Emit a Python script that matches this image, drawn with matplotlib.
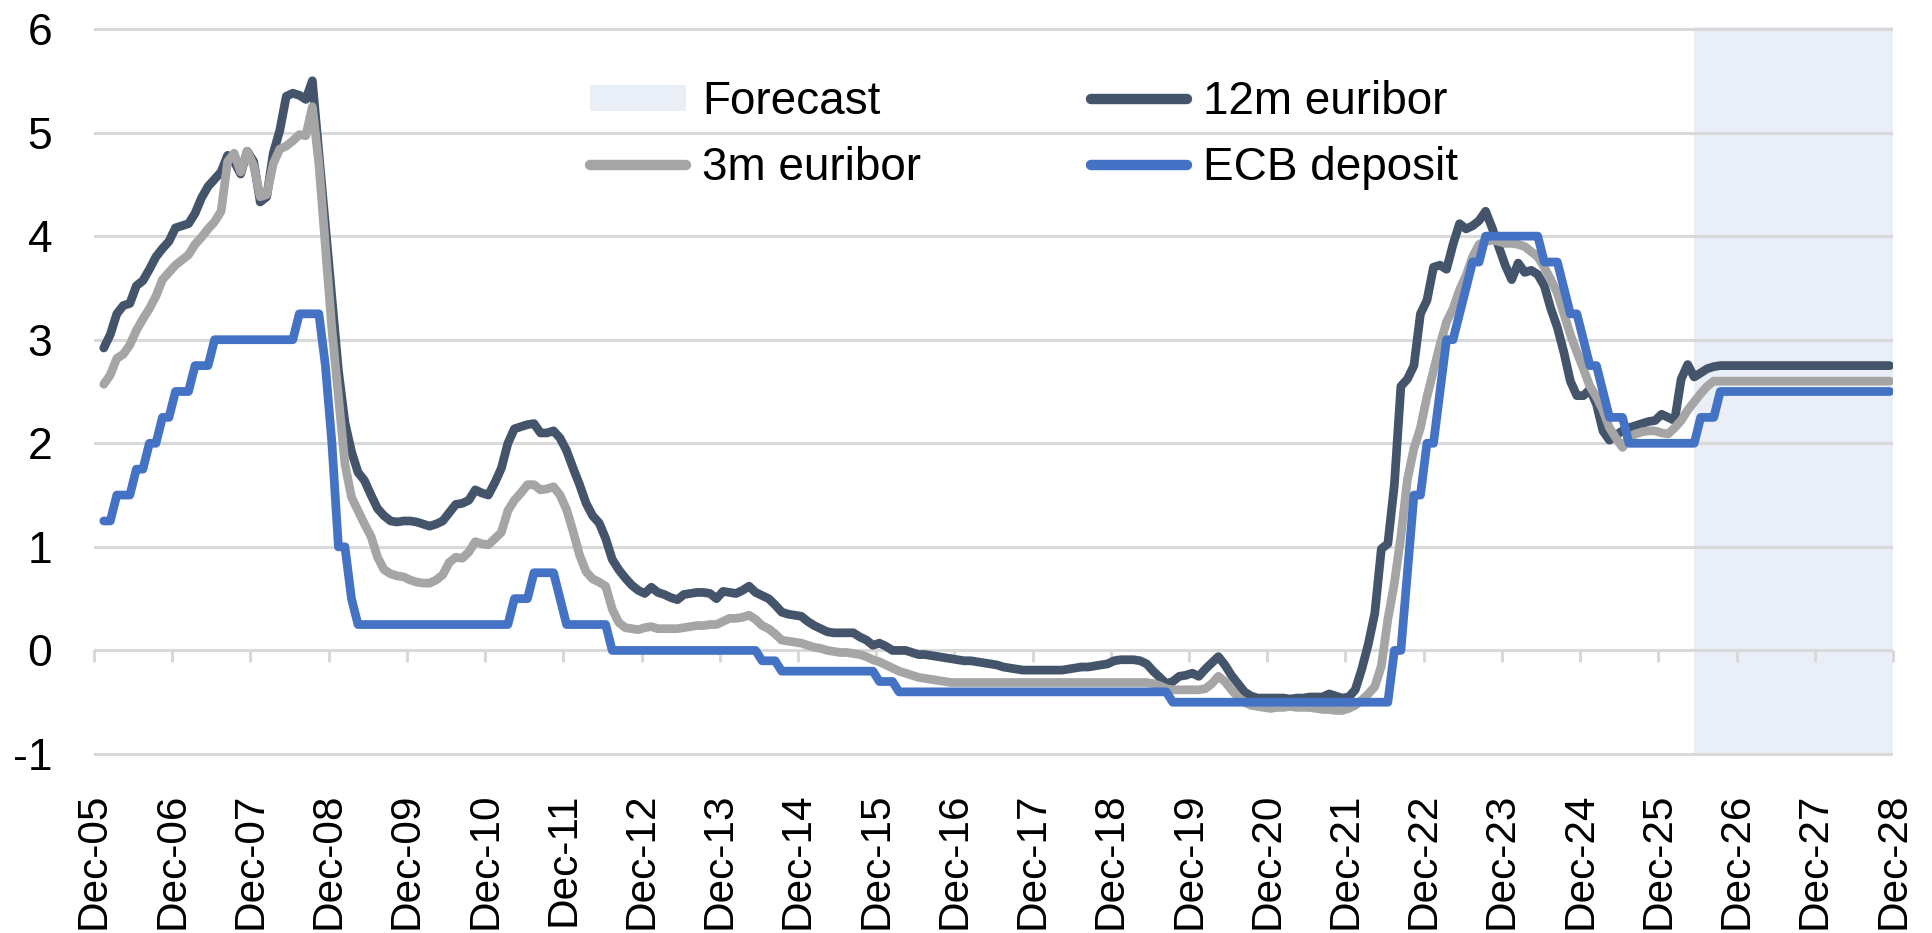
import numpy as np
import matplotlib
matplotlib.use("Agg")
import matplotlib.pyplot as plt
from matplotlib.patches import Patch
from matplotlib.lines import Line2D

# ---------------- data (monthly, Jan-06 ... Nov-28) ----------------
tick_labels = ["Dec-05", "Dec-06", "Dec-07", "Dec-08", "Dec-09", "Dec-10", "Dec-11",
               "Dec-12", "Dec-13", "Dec-14", "Dec-15", "Dec-16", "Dec-17", "Dec-18",
               "Dec-19", "Dec-20", "Dec-21", "Dec-22", "Dec-23", "Dec-24", "Dec-25",
               "Dec-26", "Dec-27", "Dec-28"]

euribor_12m = [
    2.92, 3.05, 3.25, 3.33, 3.35, 3.52, 3.57, 3.68, 3.80, 3.88, 3.95, 4.08,   # 2006
    4.10, 4.12, 4.22, 4.37, 4.48, 4.55, 4.62, 4.78, 4.72, 4.60, 4.82, 4.72,   # 2007
    4.33, 4.38, 4.80, 5.02, 5.35, 5.38, 5.36, 5.32, 5.50, 4.80, 4.10, 3.40,   # 2008
    2.70, 2.20, 1.92, 1.72, 1.64, 1.50, 1.37, 1.30, 1.25, 1.24, 1.25, 1.25,   # 2009
    1.24, 1.22, 1.20, 1.22, 1.25, 1.33, 1.41, 1.42, 1.45, 1.55, 1.52, 1.50,   # 2010
    1.62, 1.76, 2.00, 2.14, 2.16, 2.18, 2.19, 2.10, 2.10, 2.12, 2.05, 1.93,   # 2011
    1.76, 1.60, 1.42, 1.30, 1.23, 1.08, 0.88, 0.78, 0.70, 0.63, 0.58, 0.55,   # 2012
    0.61, 0.56, 0.54, 0.51, 0.49, 0.54, 0.55, 0.56, 0.56, 0.55, 0.50, 0.57,   # 2013
    0.56, 0.55, 0.58, 0.62, 0.56, 0.53, 0.50, 0.44, 0.37, 0.35, 0.34, 0.33,   # 2014
    0.28, 0.24, 0.21, 0.18, 0.17, 0.17, 0.17, 0.17, 0.13, 0.10, 0.05, 0.07,   # 2015
    0.04, 0.00, 0.00, 0.00, -0.02, -0.04, -0.04, -0.05, -0.06, -0.07, -0.08, -0.09,  # 2016
    -0.10, -0.10, -0.11, -0.12, -0.13, -0.14, -0.16, -0.17, -0.18, -0.19, -0.19, -0.19,  # 2017
    -0.19, -0.19, -0.19, -0.19, -0.18, -0.17, -0.16, -0.16, -0.15, -0.14, -0.13, -0.10,  # 2018
    -0.09, -0.09, -0.09, -0.10, -0.13, -0.20, -0.26, -0.32, -0.30, -0.25, -0.24, -0.22,  # 2019
    -0.25, -0.18, -0.12, -0.06, -0.14, -0.24, -0.32, -0.40, -0.44, -0.46, -0.46, -0.46,  # 2020
    -0.46, -0.46, -0.47, -0.46, -0.46, -0.45, -0.45, -0.45, -0.42, -0.44, -0.46, -0.45,  # 2021
    -0.38, -0.18, 0.06, 0.36, 0.98, 1.03, 1.60, 2.55, 2.62, 2.75, 3.25, 3.38,  # 2022
    3.70, 3.72, 3.68, 3.92, 4.12, 4.07, 4.10, 4.15, 4.24, 4.08, 3.90, 3.72,   # 2023
    3.58, 3.74, 3.65, 3.67, 3.63, 3.52, 3.30, 3.12, 2.88, 2.60, 2.46, 2.46,   # 2024
    2.52, 2.38, 2.12, 2.03, 2.08, 2.12, 2.15, 2.17, 2.19, 2.21, 2.22, 2.28,   # 2025
    2.25, 2.22, 2.62, 2.76, 2.64, 2.68, 2.72, 2.74, 2.75, 2.75, 2.75, 2.75,   # 2026
    2.75, 2.75, 2.75, 2.75, 2.75, 2.75, 2.75, 2.75, 2.75, 2.75, 2.75, 2.75,   # 2027
    2.75, 2.75, 2.75, 2.75, 2.75, 2.75, 2.75, 2.75, 2.75, 2.75, 2.75,         # 2028
]

euribor_3m = [
    2.57, 2.66, 2.82, 2.86, 2.95, 3.09, 3.20, 3.30, 3.42, 3.58, 3.65, 3.72,   # 2006
    3.77, 3.82, 3.92, 3.99, 4.07, 4.14, 4.24, 4.72, 4.80, 4.62, 4.82, 4.68,   # 2007
    4.38, 4.40, 4.70, 4.84, 4.87, 4.92, 4.98, 4.97, 5.25, 4.70, 3.90, 3.10,   # 2008
    2.45, 1.80, 1.48, 1.35, 1.22, 1.10, 0.90, 0.78, 0.74, 0.72, 0.71, 0.68,   # 2009
    0.66, 0.65, 0.65, 0.68, 0.73, 0.85, 0.90, 0.89, 0.95, 1.05, 1.03, 1.02,   # 2010
    1.08, 1.14, 1.35, 1.45, 1.52, 1.60, 1.60, 1.55, 1.56, 1.58, 1.50, 1.36,   # 2011
    1.15, 0.92, 0.76, 0.69, 0.66, 0.62, 0.40, 0.27, 0.22, 0.21, 0.20, 0.22,   # 2012
    0.23, 0.21, 0.21, 0.21, 0.21, 0.22, 0.23, 0.24, 0.24, 0.25, 0.25, 0.28,   # 2013
    0.31, 0.31, 0.32, 0.34, 0.30, 0.24, 0.21, 0.16, 0.10, 0.09, 0.08, 0.07,   # 2014
    0.05, 0.03, 0.02, 0.00, -0.01, -0.02, -0.02, -0.03, -0.04, -0.06, -0.09, -0.11,  # 2015
    -0.14, -0.17, -0.20, -0.22, -0.24, -0.26, -0.27, -0.28, -0.29, -0.30, -0.31, -0.31,  # 2016
    -0.31, -0.31, -0.31, -0.31, -0.31, -0.31, -0.31, -0.31, -0.31, -0.31, -0.31, -0.31,  # 2017
    -0.31, -0.31, -0.31, -0.31, -0.31, -0.31, -0.31, -0.31, -0.31, -0.31, -0.31, -0.31,  # 2018
    -0.31, -0.31, -0.31, -0.31, -0.31, -0.32, -0.34, -0.37, -0.38, -0.38, -0.38, -0.38,  # 2019
    -0.38, -0.37, -0.32, -0.25, -0.30, -0.38, -0.45, -0.50, -0.53, -0.54, -0.55, -0.56,  # 2020
    -0.55, -0.55, -0.54, -0.55, -0.55, -0.55, -0.56, -0.57, -0.57, -0.58, -0.58, -0.56,  # 2021
    -0.53, -0.48, -0.42, -0.35, -0.15, 0.30, 0.65, 1.10, 1.65, 1.95, 2.15, 2.45,  # 2022
    2.70, 2.95, 3.17, 3.30, 3.48, 3.62, 3.80, 3.92, 3.95, 3.96, 3.95, 3.93,   # 2023
    3.93, 3.92, 3.90, 3.85, 3.80, 3.70, 3.58, 3.45, 3.25, 3.05, 2.88, 2.72,   # 2024
    2.55, 2.45, 2.32, 2.15, 2.05, 1.96, 2.06, 2.09, 2.11, 2.12, 2.12, 2.10,   # 2025
    2.09, 2.15, 2.22, 2.32, 2.40, 2.48, 2.55, 2.60, 2.60, 2.60, 2.60, 2.60,   # 2026
    2.60, 2.60, 2.60, 2.60, 2.60, 2.60, 2.60, 2.60, 2.60, 2.60, 2.60, 2.60,   # 2027
    2.60, 2.60, 2.60, 2.60, 2.60, 2.60, 2.60, 2.60, 2.60, 2.60, 2.60,         # 2028
]

ecb_deposit = [
    1.25, 1.25, 1.50, 1.50, 1.50, 1.75, 1.75, 2.00, 2.00, 2.25, 2.25, 2.50,   # 2006
    2.50, 2.50, 2.75, 2.75, 2.75, 3.00, 3.00, 3.00, 3.00, 3.00, 3.00, 3.00,   # 2007
    3.00, 3.00, 3.00, 3.00, 3.00, 3.00, 3.25, 3.25, 3.25, 3.25, 2.75, 2.00,   # 2008
    1.00, 1.00, 0.50, 0.25, 0.25, 0.25, 0.25, 0.25, 0.25, 0.25, 0.25, 0.25,   # 2009
    0.25, 0.25, 0.25, 0.25, 0.25, 0.25, 0.25, 0.25, 0.25, 0.25, 0.25, 0.25,   # 2010
    0.25, 0.25, 0.25, 0.50, 0.50, 0.50, 0.75, 0.75, 0.75, 0.75, 0.50, 0.25,   # 2011
    0.25, 0.25, 0.25, 0.25, 0.25, 0.25, 0.00, 0.00, 0.00, 0.00, 0.00, 0.00,   # 2012
    0.00, 0.00, 0.00, 0.00, 0.00, 0.00, 0.00, 0.00, 0.00, 0.00, 0.00, 0.00,   # 2013
    0.00, 0.00, 0.00, 0.00, 0.00, -0.10, -0.10, -0.10, -0.20, -0.20, -0.20, -0.20,  # 2014
    -0.20, -0.20, -0.20, -0.20, -0.20, -0.20, -0.20, -0.20, -0.20, -0.20, -0.20, -0.30,  # 2015
    -0.30, -0.30, -0.40, -0.40, -0.40, -0.40, -0.40, -0.40, -0.40, -0.40, -0.40, -0.40,  # 2016
    -0.40, -0.40, -0.40, -0.40, -0.40, -0.40, -0.40, -0.40, -0.40, -0.40, -0.40, -0.40,  # 2017
    -0.40, -0.40, -0.40, -0.40, -0.40, -0.40, -0.40, -0.40, -0.40, -0.40, -0.40, -0.40,  # 2018
    -0.40, -0.40, -0.40, -0.40, -0.40, -0.40, -0.40, -0.40, -0.50, -0.50, -0.50, -0.50,  # 2019
    -0.50, -0.50, -0.50, -0.50, -0.50, -0.50, -0.50, -0.50, -0.50, -0.50, -0.50, -0.50,  # 2020
    -0.50, -0.50, -0.50, -0.50, -0.50, -0.50, -0.50, -0.50, -0.50, -0.50, -0.50, -0.50,  # 2021
    -0.50, -0.50, -0.50, -0.50, -0.50, -0.50, 0.00, 0.00, 0.75, 1.50, 1.50, 2.00,  # 2022
    2.00, 2.50, 3.00, 3.00, 3.25, 3.50, 3.75, 3.75, 4.00, 4.00, 4.00, 4.00,   # 2023
    4.00, 4.00, 4.00, 4.00, 4.00, 3.75, 3.75, 3.75, 3.50, 3.25, 3.25, 3.00,   # 2024
    2.75, 2.75, 2.50, 2.25, 2.25, 2.25, 2.00, 2.00, 2.00, 2.00, 2.00, 2.00,   # 2025
    2.00, 2.00, 2.00, 2.00, 2.00, 2.25, 2.25, 2.25, 2.50, 2.50, 2.50, 2.50,   # 2026
    2.50, 2.50, 2.50, 2.50, 2.50, 2.50, 2.50, 2.50, 2.50, 2.50, 2.50, 2.50,   # 2027
    2.50, 2.50, 2.50, 2.50, 2.50, 2.50, 2.50, 2.50, 2.50, 2.50, 2.50,         # 2028
]

forecast_from = "May-26"   # first forecast month (shading starts here)

assert len(euribor_12m) == len(euribor_3m) == len(ecb_deposit) == 275

# ---------------- styling ----------------
C_12M = "#44546A"
C_3M = "#A5A5A5"
C_ECB = "#4472C4"
C_FC = "#EAEFF7"
C_GRID = "#D9D9D9"

plt.rcParams["font.family"] = ["Liberation Sans", "DejaVu Sans"]
plt.rcParams["axes.unicode_minus"] = False

W, H = 1932, 933
fig = plt.figure(figsize=(W / 100, H / 100), dpi=100)

ymin, ymax = -1.02, 6.02
px_unit = 103.6
y_top_px = 29 - 0.02 * px_unit
y_bot_px = 754 + 0.02 * px_unit
ax = fig.add_axes([94 / W, 1 - y_bot_px / H, (1893 - 94) / W, (y_bot_px - y_top_px) / H])

# month positions: Dec-05 sits on the left edge (0), each month one unit
n = len(ecb_deposit)
month_names = []
for k in range(1, n + 1):
    yr = 2005 + (k + 11) // 12
    mo = (k - 1) % 12
    month_names.append(["Jan", "Feb", "Mar", "Apr", "May", "Jun", "Jul", "Aug",
                        "Sep", "Oct", "Nov", "Dec"][mo] + "-%02d" % (yr % 100))
x = np.arange(1, n + 1) + 0.5
n_months_axis = 12 * (len(tick_labels) - 1)

fc_x = x[month_names.index(forecast_from)]
ax.axvspan(fc_x, n_months_axis, facecolor=C_FC, edgecolor="none", zorder=0)

lw = 6.3
ax.plot(x, euribor_12m, color=C_12M, lw=lw, solid_capstyle="round",
        solid_joinstyle="round", zorder=3)
ax.plot(x, euribor_3m, color=C_3M, lw=lw, solid_capstyle="round",
        solid_joinstyle="round", zorder=4)
ax.plot(x, ecb_deposit, color=C_ECB, lw=lw, solid_capstyle="round",
        solid_joinstyle="round", zorder=5)

ax.set_xlim(0, n_months_axis)
ax.set_ylim(ymin, ymax)
ax.set_yticks(range(-1, 7))
ax.yaxis.grid(True, color=C_GRID, lw=2.2)
ax.xaxis.grid(False)
ax.set_axisbelow(True)
for sp in ax.spines.values():
    sp.set_visible(False)

ax.set_xticks(np.arange(0, n_months_axis + 1, 12))
ax.set_xticklabels(tick_labels)
ax.tick_params(axis="x", length=0, pad=26, labelsize=30.5, labelrotation=90)
ax.tick_params(axis="y", length=0, pad=30, labelsize=32)
for lab in ax.get_xticklabels():
    lab.set_verticalalignment("top")
    lab.set_horizontalalignment("center")

# tick marks hanging below the zero line
zero_frac = (0 - ymin) / (ymax - ymin)
sec = ax.secondary_xaxis(zero_frac)
sec.set_xticks(np.arange(0, n_months_axis + 1, 12))
sec.tick_params(axis="x", direction="out", length=8.6, width=2.2, color=C_GRID,
                labelbottom=False, labeltop=False)
sec.set_xticklabels([])
for sp in sec.spines.values():
    sp.set_visible(False)

# legend
handles = [
    Patch(facecolor=C_FC, edgecolor="none"),
    Line2D([], [], color=C_3M, lw=7.5, solid_capstyle="round"),
    Line2D([], [], color=C_12M, lw=7.5, solid_capstyle="round"),
    Line2D([], [], color=C_ECB, lw=7.5, solid_capstyle="round"),
]
labels = ["Forecast", "3m euribor", "12m euribor", "ECB deposit"]
fig.legend(handles, labels, ncol=2, loc="upper left",
           bbox_to_anchor=(590 / W, 1 - 80 / H), frameon=False, fontsize=33,
           handlelength=2.1, handleheight=0.5, handletextpad=0.35,
           columnspacing=3.7, labelspacing=0.48, borderpad=0, borderaxespad=0)

fig.savefig("out.png", dpi=100)
